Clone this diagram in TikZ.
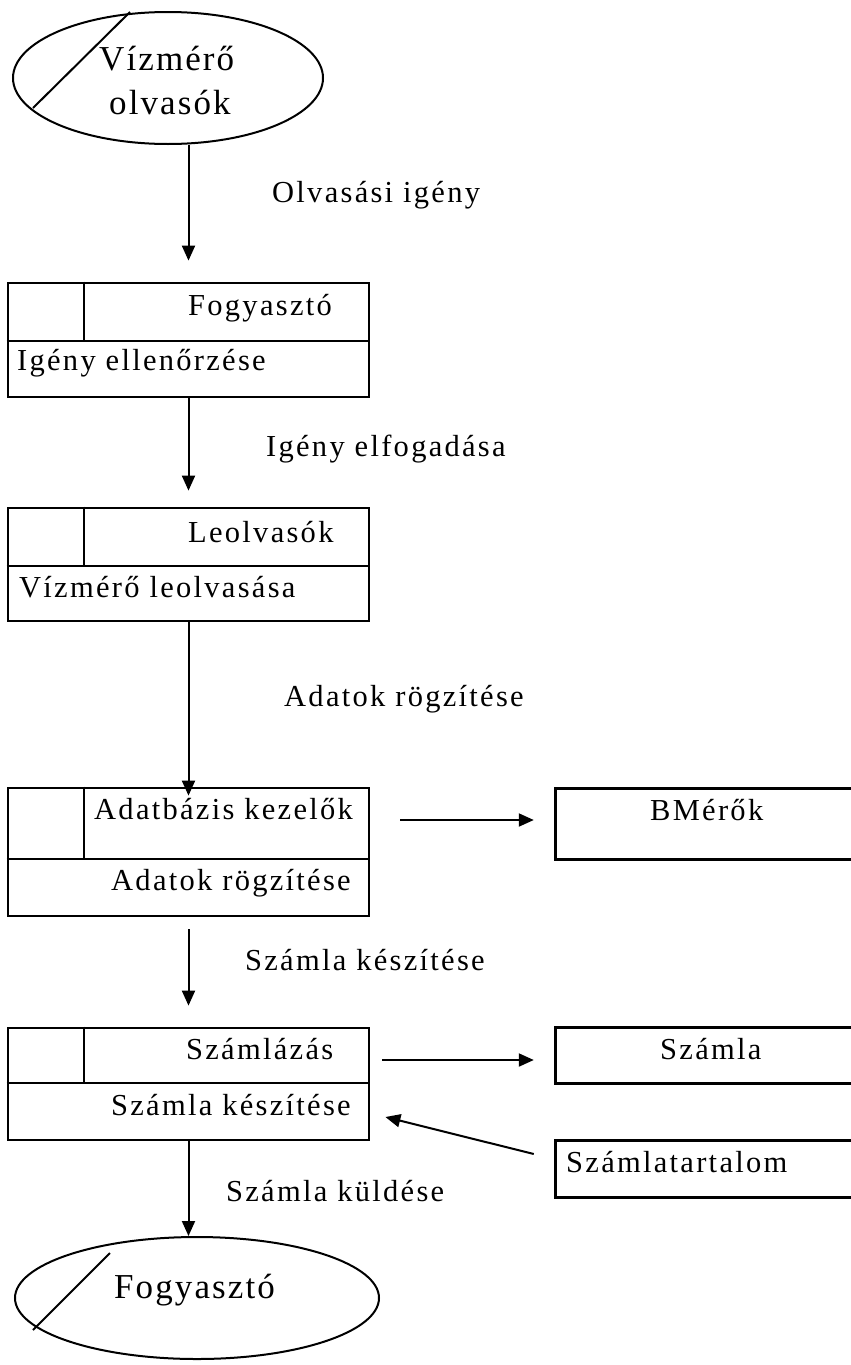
\documentclass[tikz,border=0pt]{standalone}
\usepackage{fontspec}
\setmainfont{Liberation Serif}[LetterSpace=7.5]
\newfontfamily\ellfont{Liberation Serif}[LetterSpace=6]
\usetikzlibrary{shapes.geometric,arrows.meta}
\tikzset{
  boxframe/.style={draw, line width=2.8pt, rectangle, inner sep=0pt},
  ell/.style={draw, line width=2pt, ellipse, inner sep=0pt},
  arr/.style={line width=2pt, -{Triangle[length=15pt,width=13pt]}},
  divl/.style={line width=2.8pt},
  txt/.style={anchor=base west, inner sep=0pt, font=\fontsize{30.5}{36}\selectfont},
  bigtxt/.style={anchor=base west, inner sep=0pt, font=\ellfont\fontsize{35}{42}\selectfont},
  rbox/.style={rectangle, inner sep=0pt}
}
\begin{document}
\begin{tikzpicture}[x=1pt,y=-1pt]
\useasboundingbox (0,0) rectangle (851,1365);
% top ellipse
\node[ell, minimum width=310pt, minimum height=132pt] (e1) at (168,78) {};
\draw[line width=2pt] ([shift={(-38,-66)}]e1.center) -- ([shift={(-135,30)}]e1.center);
\node[bigtxt] (e1t1) at (99,70) {Vízmérő};
\node[bigtxt] (e1t2) at (109,114) {olvasók};
% box 1
\node[boxframe, minimum width=361pt, minimum height=114pt] (b1) at (188.5,340) {};
\draw[divl] (b1.west |- 0,341) -- (b1.east |- 0,341);
\draw[divl] (84,0 |- b1.north) -- (84,341);
\node[txt] (b1t1) at (188,315) {Fogyasztó};
\node[txt] (b1t2) at (17,370) {Igény ellenőrzése};
% box 2
\node[boxframe, minimum width=361pt, minimum height=113pt] (b2) at (188.5,564.5) {};
\draw[divl] (b2.west |- 0,566) -- (b2.east |- 0,566);
\draw[divl] (84,0 |- b2.north) -- (84,566);
\node[txt] (b2t1) at (188,542) {Leolvasók};
\node[txt] (b2t2) at (19,597) {Vízmérő leolvasása};
% box 3
\node[boxframe, minimum width=361pt, minimum height=128pt] (b3) at (188.5,852) {};
\draw[divl] (b3.west |- 0,859) -- (b3.east |- 0,859);
\draw[divl] (84,0 |- b3.north) -- (84,859);
\node[txt] (b3t1) at (94,819) {Adatbázis kezelők};
\node[txt] (b3t2) at (111,890) {Adatok rögzítése};
% box 4
\node[boxframe, minimum width=361pt, minimum height=112pt] (b4) at (188.5,1084) {};
\draw[divl] (b4.west |- 0,1083) -- (b4.east |- 0,1083);
\draw[divl] (84,0 |- b4.north) -- (84,1083);
\node[txt] (b4t1) at (186,1059) {Számlázás};
\node[txt] (b4t2) at (111,1115) {Számla készítése};
% right boxes (open to the right)
\node[rbox, minimum width=304pt, minimum height=70pt] (bm) at (708,824) {};
\draw[divl] (bm.north east) -- (bm.north west) -- (bm.south west) -- (bm.south east);
\node[txt] (bmt) at (650,820) {BMérők};
\node[rbox, minimum width=304pt, minimum height=55pt] (sz) at (708,1055.5) {};
\draw[divl] (sz.north east) -- (sz.north west) -- (sz.south west) -- (sz.south east);
\node[txt] (szt) at (660,1059) {Számla};
\node[rbox, minimum width=304pt, minimum height=56pt] (st) at (708,1169) {};
\draw[divl] (st.north east) -- (st.north west) -- (st.south west) -- (st.south east);
\node[txt] (stt) at (566,1172) {Számlatartalom};
% bottom ellipse
\node[ell, minimum width=364pt, minimum height=122pt] (e2) at (197,1298) {};
\draw[line width=2pt] ([shift={(-87,-45)}]e2.center) -- ([shift={(-164,32)}]e2.center);
\node[bigtxt] (e2t) at (114,1298) {Fogyasztó};
% vertical arrows
\draw[arr, shorten >=21pt] (e1.south -| b1.north) -- (b1.north);
\node[txt] (l1) at (272,202) {Olvasási igény};
\draw[arr, shorten >=16pt] (b1.south) -- (b2.north);
\node[txt] (l2) at (266,456) {Igény elfogadása};
\draw[arr, shorten >=-9pt] (b2.south) -- (b3.north);
\node[txt] (l3) at (284,706) {Adatok rögzítése};
\draw[arr, shorten <=12pt, shorten >=21pt] (b3.south) -- (b4.north);
\node[txt] (l4) at (245,970) {Számla készítése};
\draw[arr] (b4.south) -- (b4.south |- e2.north);
\node[txt] (l5) at (226,1201) {Számla küldése};
% horizontal arrows
\draw[arr, shorten <=30pt, shorten >=22pt] ([yshift=4pt]b3.east |- bm.west) -- ([yshift=4pt]bm.west);
\draw[arr, shorten <=12pt, shorten >=22pt] ([yshift=-4.5pt]b4.east |- sz.west) -- ([yshift=-4.5pt]sz.west);
\draw[arr] ([shift={(-22,-15)}]st.west) -- ([shift={(15,33)}]b4.east);
\end{tikzpicture}
\end{document}
